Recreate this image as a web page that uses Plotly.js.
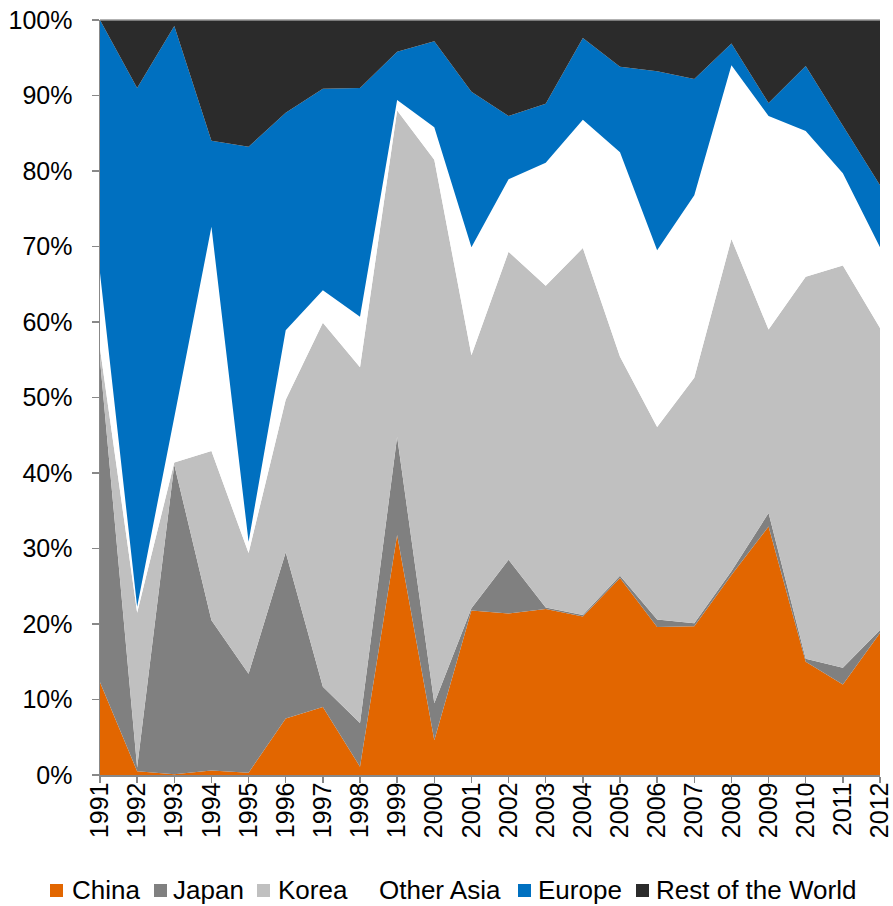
<!DOCTYPE html>
<html>
<head>
<meta charset="utf-8">
<script src="https://cdn.plot.ly/plotly-3.0.1.min.js"></script>
<style>html,body{margin:0;padding:0;background:#fff;}#chart{width:893px;height:906px;}</style>
</head>
<body>
<div id="chart"></div>
<script>
const years = [1991,1992,1993,1994,1995,1996,1997,1998,1999,2000,2001,2002,2003,2004,2005,2006,2007,2008,2009,2010,2011,2012];
const china     = [12.3,0.5,0.1,0.6,0.3,7.5,9.0,1.1,31.8,4.6,21.8,21.4,22.0,21.0,26.1,19.6,19.7,26.5,32.9,15.0,12.0,18.8];
const japan     = [42.7,0.5,41.0,19.9,13.1,22.0,2.7,5.8,13.0,4.9,0.3,7.1,0.2,0.2,0.3,1.0,0.4,0.5,1.8,0.4,2.2,0.4];
const korea     = [1.5,20.5,0.3,22.4,16.0,20.2,48.2,47.1,43.2,72.0,33.5,40.8,42.6,48.6,29.0,25.5,32.5,44.0,24.3,50.6,53.3,40.0];
const otherAsia = [10.0,0.8,6.0,29.7,1.5,9.2,4.3,6.7,1.4,4.3,14.3,9.6,16.3,17.0,27.1,23.4,24.2,23.0,28.3,19.3,12.2,10.7];
const europe    = [33.5,68.7,51.8,11.4,52.3,28.8,26.7,30.3,6.4,11.4,20.6,8.4,7.8,10.8,11.3,23.7,15.4,2.9,1.7,8.6,6.3,8.2];
const restWorld = [0.0,9.0,0.8,16.0,16.8,12.3,9.1,9.0,4.2,2.8,9.5,12.7,11.1,2.4,6.2,6.8,7.8,3.1,11.0,6.1,14.0,21.9];

const seriesNames = ["China","Japan","Korea","Other Asia","Europe","Rest of the World"];
const seriesData = [china, japan, korea, otherAsia, europe, restWorld];
const seriesColors = ["#E26600","#808080","#C0C0C0","#FFFFFF","#0070C0","#2B2B2B"];

const traces = seriesNames.map((n,i)=>({
  type:'scatter', mode:'lines', name:n, x:years, y:seriesData[i],
  stackgroup:'one', fillcolor:seriesColors[i], showlegend:false,
  line:{width:0, color:seriesColors[i]}, hoverinfo:'x+y+name'
}));

const font = "Liberation Sans, Arial, sans-serif";

// custom legend (pixel positions of swatch left edge and text left edge)
const plotL = 100, plotW = 780, plotB = 775, plotH = 755;
const px2x = p => (p - plotL) / plotW;
const py2y = p => (plotB - p) / plotH;
const legSwatchX = [50, 154, 257, 358, 518, 636];
const legTextX   = [70, 171, 276, 377, 536, 654];
const legShapes = [], legAnn = [];
seriesNames.forEach((n,i)=>{
  if (seriesColors[i] !== "#FFFFFF") {
    legShapes.push({type:'rect', xref:'paper', yref:'paper',
      x0:px2x(legSwatchX[i]), x1:px2x(legSwatchX[i]+13), y0:py2y(897), y1:py2y(884),
      fillcolor:seriesColors[i], line:{width:0}});
  }
  legAnn.push({xref:'paper', yref:'paper', x:px2x(legTextX[i]), y:py2y(890), xanchor:'left', yanchor:'middle',
    text:n, showarrow:false, font:{family:font, size:26, color:'#000'}});
});

const layout = {
  width:893, height:906,
  margin:{l:100, r:13, t:20, b:131},
  paper_bgcolor:'#fff', plot_bgcolor:'#fff',
  font:{family:font, size:24, color:'#000'},
  showlegend:false,
  xaxis:{range:[1991,2012], tickvals:years, ticktext:years.map(String), tickangle:-90,
         ticks:'outside', ticklen:6, tickcolor:'#888', tickwidth:1.5, ticklabelstandoff:-10, ticklabeloverflow:'allow',
         showline:true, linecolor:'#888', linewidth:1.5, showgrid:false, zeroline:false,
         tickfont:{family:font, size:25}, fixedrange:true},
  yaxis:{range:[0,100], dtick:10, ticksuffix:'%', ticks:'outside', ticklen:7, tickcolor:'#888', tickwidth:1.5,
         ticklabelstandoff:14,
         showline:true, linecolor:'#888', linewidth:1.5, showgrid:false, zeroline:false,
         tickfont:{family:font, size:25}, fixedrange:true},
  shapes:[{type:'line', xref:'paper', yref:'paper', x0:0, x1:1, y0:1, y1:1, line:{color:'#999', width:1.5}}].concat(legShapes),
  annotations:legAnn
};
Plotly.newPlot('chart', traces, layout, {displayModeBar:false, staticPlot:true});
</script>
</body>
</html>
